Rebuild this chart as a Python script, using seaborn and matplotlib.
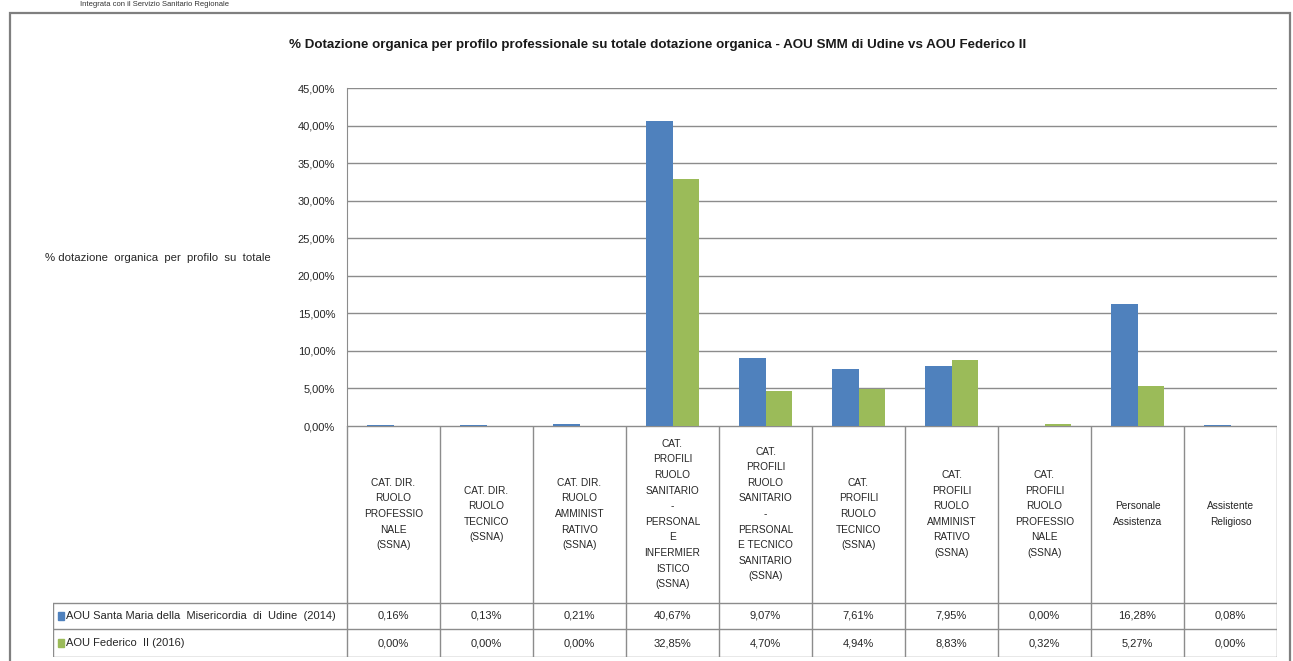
import pandas as pd
import matplotlib
matplotlib.use("Agg")
import matplotlib.pyplot as plt
from matplotlib.ticker import FuncFormatter
from matplotlib.patches import Rectangle
import seaborn as sns

# dati (% dotazione organica)
categorie = [
    "CAT. DIR.\nRUOLO\nPROFESSIO\nNALE\n(SSNA)",
    "CAT. DIR.\nRUOLO\nTECNICO\n(SSNA)",
    "CAT. DIR.\nRUOLO\nAMMINIST\nRATIVO\n(SSNA)",
    "CAT.\nPROFILI\nRUOLO\nSANITARIO\n-\nPERSONAL\nE\nINFERMIER\nISTICO\n(SSNA)",
    "CAT.\nPROFILI\nRUOLO\nSANITARIO\n-\nPERSONAL\nE TECNICO\nSANITARIO\n(SSNA)",
    "CAT.\nPROFILI\nRUOLO\nTECNICO\n(SSNA)",
    "CAT.\nPROFILI\nRUOLO\nAMMINIST\nRATIVO\n(SSNA)",
    "CAT.\nPROFILI\nRUOLO\nPROFESSIO\nNALE\n(SSNA)",
    "Personale\nAssistenza",
    "Assistente\nReligioso",
]
serie = ["AOU Santa Maria della  Misericordia  di  Udine  (2014)", "AOU Federico  II (2016)"]
udine = [0.16, 0.13, 0.21, 40.67, 9.07, 7.61, 7.95, 0.00, 16.28, 0.08]
federico = [0.00, 0.00, 0.00, 32.85, 4.70, 4.94, 8.83, 0.32, 5.27, 0.00]
colori = ["#4F81BD", "#9BBB59"]
yticks = [0, 5, 10, 15, 20, 25, 30, 35, 40, 45]

df = pd.DataFrame({
    "cat": list(range(len(categorie))) * 2,
    "serie": [serie[0]] * len(udine) + [serie[1]] * len(federico),
    "valore": udine + federico,
})

def pct(v):
    return f"{v:.2f}%".replace(".", ",")

sns.set_style("white")
plt.rcParams['font.family'] = ['Liberation Sans', 'DejaVu Sans']

W, H = 1293, 661
fig = plt.figure(figsize=(W / 100, H / 100), dpi=100)

def fx(px):
    return px / W

def fy(py):
    return 1 - py / H

# cornice esterna
fig.add_artist(Rectangle((fx(10), fy(668)), fx(1280), fy(13) - fy(668),
                         transform=fig.transFigure, fill=False, ec="#7f7f7f", lw=1.6))
fig.text(fx(80), fy(1), "Integrata con il Servizio Sanitario Regionale", fontsize=5.5,
         color="#333333", va="top")

# grafico a barre
ax = fig.add_axes([fx(347), fy(426), fx(1277 - 347), fy(88) - fy(426)])
sns.barplot(data=df, x="cat", y="valore", hue="serie", hue_order=serie,
            palette=colori, saturation=1, width=0.56, gap=0, dodge=True, ax=ax,
            legend=False, edgecolor="none", zorder=3)
ax.set_xlim(-0.5, len(categorie) - 0.5)
ax.set_ylim(0, 45)
ax.set_yticks(yticks)
ax.yaxis.set_major_formatter(FuncFormatter(lambda v, _: pct(v)))
ax.tick_params(axis="y", labelsize=8, length=0, pad=8.5)
ax.set_xticks([])
ax.set_xlabel("")
ax.set_ylabel("")
ax.grid(axis="y", color="#8c8c8c", lw=1, zorder=0)
for s in ["top", "right", "bottom"]:
    ax.spines[s].set_visible(False)
ax.spines["left"].set_color("#8c8c8c")

fig.text(fx(45), fy(258), "% dotazione  organica  per  profilo  su  totale",
         fontsize=8.2, va="center", ha="left")
fig.text(fx(658), fy(45), "% Dotazione organica per profilo professionale su totale dotazione organica"
         " - AOU SMM di Udine vs AOU Federico II", fontsize=9.6, fontweight="bold",
         color="#1a1a1a", ha="center", va="center")

# tabella dati
tx = fig.add_axes([fx(53), fy(657), fx(1277 - 53), fy(426) - fy(657)])
tx.set_axis_off()
n = len(categorie)
leg_w = (347 - 53) / ((1277 - 347) / n)
tx.set_xlim(-leg_w, n)
tx.set_ylim(231, 0)
lc = "#8c8c8c"
rows = [177, 203, 231]
# linee orizzontali
tx.plot([0, n], [0, 0], color=lc, lw=1)
for r in rows:
    tx.plot([-leg_w, n], [r, r], color=lc, lw=1)
# linee verticali
for i in range(n + 1):
    tx.plot([i, i], [-4 if 0 < i < n else 0, 231], color=lc, lw=1)
tx.plot([-leg_w, -leg_w], [177, 231], color=lc, lw=1)

for i, lab in enumerate(categorie):
    tx.text(i + 0.5, 88, lab, ha="center", va="center", fontsize=7.3, linespacing=1.7)
    tx.text(i + 0.5, 190, pct(udine[i]), ha="center", va="center", fontsize=8)
    tx.text(i + 0.5, 217, pct(federico[i]), ha="center", va="center", fontsize=8)

for k, (nome, c) in enumerate(zip(serie, colori)):
    yc = 190 if k == 0 else 217
    tx.add_patch(Rectangle((-leg_w + 0.05, yc - 4), 0.07, 8, color=c))
    tx.text(-leg_w + 0.14, yc, nome, ha="left", va="center", fontsize=8)

fig.savefig("out.png", dpi=100)
